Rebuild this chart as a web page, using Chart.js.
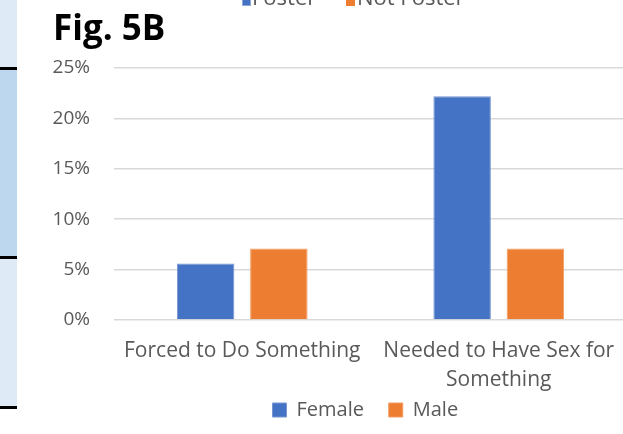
<!DOCTYPE html>
<html>
<head>
<meta charset="utf-8">
<script src="https://cdn.jsdelivr.net/npm/chart.js@4.4.1/dist/chart.umd.min.js"></script>
<style>
  html, body { margin: 0; padding: 0; background: #ffffff; overflow: hidden; }
  #chart-container { position: relative; width: 627px; height: 434px; }
</style>
</head>
<body>
<div id="chart-container">
  <canvas id="fig5b"></canvas>
</div>
<script>
// Survey answers, percent of respondents
var categories = ['Forced to Do Something', ['Needed to Have Sex for', 'Something']];
var femaleValues = [5.6, 22.2];
var maleValues = [7.1, 7.1];
var yTicks = [0, 5, 10, 15, 20, 25];

var labelColor = '#595959';
var fontFamily = "'Open Sans', 'Noto Sans', sans-serif";

// Decorations outside the plot: side panel, the neighbouring chart's legend, figure label
var figDecor = {
  id: 'figDecor',
  beforeDraw: function(chart) {
    var ctx = chart.ctx;
    ctx.save();
    // side panel strip
    ctx.fillStyle = '#deebf7';
    ctx.fillRect(0, 0, 17, 407);
    ctx.fillStyle = '#bdd7ee';
    ctx.fillRect(0, 69, 17, 188);
    ctx.fillStyle = '#000000';
    ctx.fillRect(0, 67, 17, 3);
    ctx.fillRect(0, 256, 17, 3);
    ctx.fillRect(0, 406, 17, 3);

    // legend of the chart above, mostly cut off
    ctx.fillStyle = '#4472c4';
    ctx.fillRect(242, -4, 9, 10);
    ctx.strokeStyle = '#8eaadb';
    ctx.lineWidth = 1;
    ctx.strokeRect(242.5, -4.5, 8, 10);
    ctx.fillStyle = '#ed7d31';
    ctx.fillRect(346, -4, 9, 10);
    ctx.font = "22px " + fontFamily;
    ctx.fillStyle = labelColor;
    ctx.textBaseline = 'alphabetic';
    ctx.textAlign = 'left';
    ctx.fillText('Foster', 252, 5);
    ctx.fillText('Not Foster', 357, 5);

    // figure label
    ctx.font = "bold 35px " + fontFamily;
    ctx.fillStyle = '#000000';
    ctx.fillText('Fig. 5B', 53, 40);
    ctx.restore();
  }
};

var ctx = document.getElementById('fig5b').getContext('2d');

var chartData = {
  labels: categories,
  datasets: [{
    label: 'Female',
    data: femaleValues,
    backgroundColor: '#4472c4',
    borderColor: '#7896d2',
    borderWidth: 1
  }, {
    label: 'Male',
    data: maleValues,
    backgroundColor: '#ed7d31',
    borderColor: '#f29c63',
    borderWidth: 1
  }]
};

var options = {
  responsive: true,
  maintainAspectRatio: false,
  animation: false,
  layout: {
    padding: { top: 68, left: 40, right: 0, bottom: 4 }
  },
  datasets: {
    bar: {
      categoryPercentage: 0.571,
      barPercentage: 0.785
    }
  },
  scales: {
    x: {
      grid: { display: false },
      border: { display: false },
      ticks: {
        color: labelColor,
        padding: 8,
        maxRotation: 0,
        autoSkip: false,
        font: { family: fontFamily, size: 21, lineHeight: 1.4 }
      },
      afterFit: function(scale) {
        scale.height = 76;
        scale.paddingLeft = 0;
        scale.paddingRight = 0;
      }
    },
    y: {
      min: 0,
      max: 25,
      afterBuildTicks: function(scale) {
        scale.ticks = yTicks.map(function(v) { return { value: v }; });
      },
      grid: { color: '#d9d9d9', lineWidth: 1.5, drawTicks: false },
      border: { display: false },
      ticks: {
        color: labelColor,
        padding: 24,
        font: { family: fontFamily, size: 19 },
        callback: function(value) { return value + '%'; }
      },
      afterFit: function(scale) {
        scale.width = 74;
        scale.paddingTop = 0;
        scale.paddingBottom = 0;
      }
    }
  },
  plugins: {
    legend: {
      display: true,
      position: 'bottom',
      fullSize: false,
      labels: {
        color: labelColor,
        boxWidth: 14,
        boxHeight: 14,
        padding: 4,
        font: { family: fontFamily, size: 20 },
        // small vertical padding keeps the legend tight; trailing spaces set the gap between items
        generateLabels: function(chart) {
          var items = Chart.defaults.plugins.legend.labels.generateLabels(chart);
          items.forEach(function(item, i) {
            item.text = item.text + (i === 0 ? '    ' : '  ');
          });
          return items;
        }
      }
    },
    tooltip: { enabled: false }
  }
};

var fig5bChart = new Chart(ctx, {
  type: 'bar',
  data: chartData,
  options: options,
  plugins: [figDecor]
});
</script>
</body>
</html>
